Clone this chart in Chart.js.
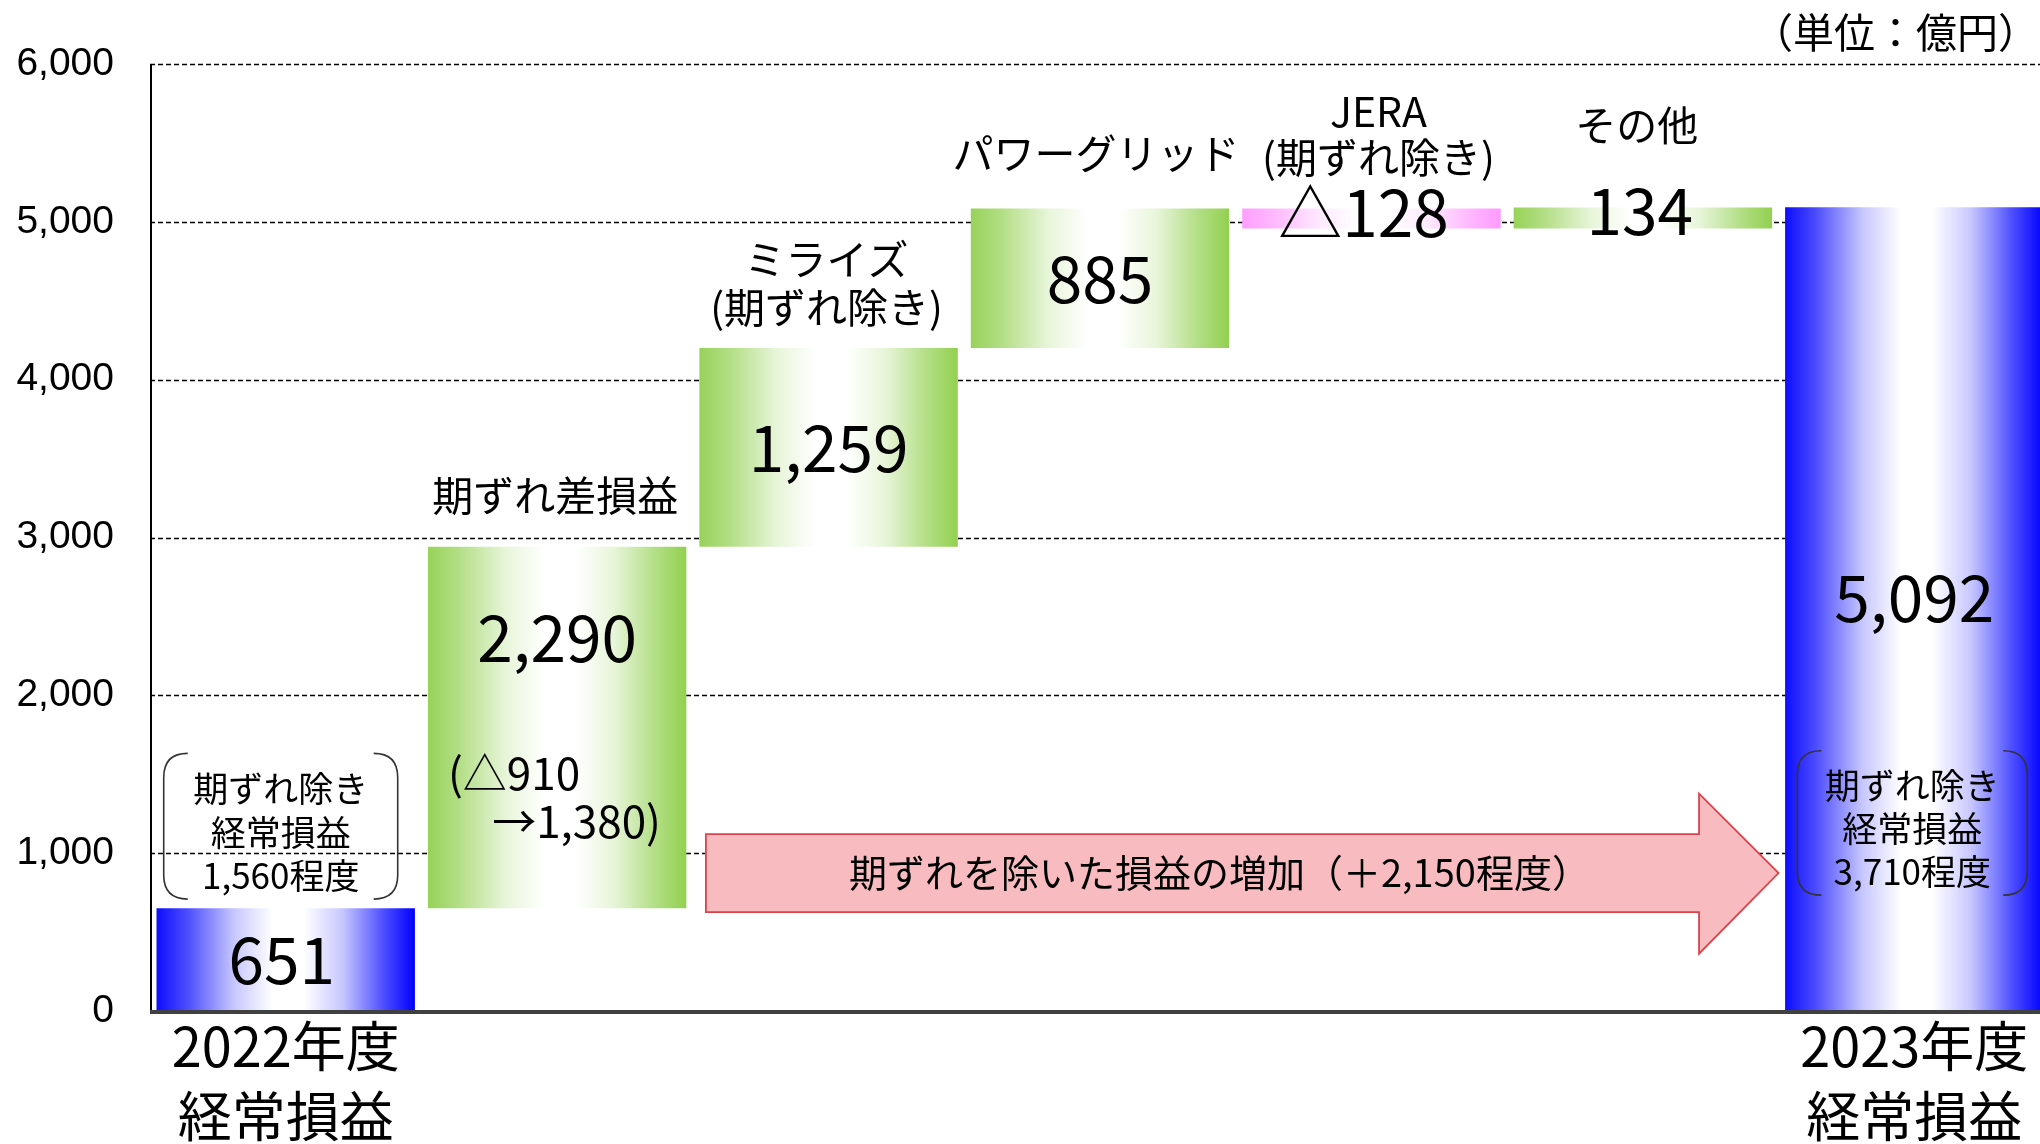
<!DOCTYPE html>
<html><head><meta charset="utf-8">
<script src="https://cdn.jsdelivr.net/npm/chart.js@4.4.1/dist/chart.umd.min.js"></script>
<style>html,body{margin:0;padding:0;background:#fff}#wrap{width:2040px;height:1144px;position:relative}</style>
</head><body><div id="wrap"><canvas id="c"></canvas></div>
<script>
// ---- data ----
const categories = ['2022年度経常損益','期ずれ差損益','ミライズ(期ずれ除き)','パワーグリッド','JERA(期ずれ除き)','その他','2023年度経常損益'];
const startValues = [0, 651, 2941, 4200, 5085, 4957, 0];
const endValues   = [651, 2941, 4200, 5085, 4957, 5091, 5092];
const valueLabels = ['651','2,290','1,259','885','△128','134','5,092'];
const barKinds = ['total','up','up','up','down','up','total'];
const topLabels = [[], ['期ずれ差損益'], ['ミライズ','(期ずれ除き)'], ['パワーグリッド'], ['JERA','(期ずれ除き)'], ['その他'], []];
const xTickLabels = [['2022年度','経常損益'], '', '', '', '', '', ['2023年度','経常損益']];
const yTicks = [0,1000,2000,3000,4000,5000,6000];
const noteLeft = ['期ずれ除き','経常損益','1,560程度'];
const noteRight = ['期ずれ除き','経常損益','3,710程度'];
const noteSub = ['(△910','→1,380)'];
const arrowText = '期ずれを除いた損益の増加（＋2,150程度）';
const unitText = '（単位：億円）';

// ---- styling / layout ----
const BAR_PCT = 0.952;
const RIGHT_OVERHANG = 10; // plot area runs slightly past the canvas edge, as in the original
const EDGE = {total:[0,0,255], up:[146,208,80], down:[255,153,255]};
const JP = '"Noto Sans CJK JP", "Noto Sans", sans-serif';
function mix(c, t){ // t: 0 = edge colour, 1 = white
  return 'rgb(' + c.map(v => Math.round(v + (255 - v) * t)).join(',') + ')';
}
function makeGrad(ctx, x0, x1, c){
  const g = ctx.createLinearGradient(x0, 0, x1, 0);
  g.addColorStop(0, mix(c, 0.05));
  g.addColorStop(0.12, mix(c, 0.3));
  g.addColorStop(0.3, mix(c, 0.78));
  g.addColorStop(0.45, mix(c, 1));
  g.addColorStop(0.57, mix(c, 1));
  g.addColorStop(0.72, mix(c, 0.78));
  g.addColorStop(0.88, mix(c, 0.3));
  g.addColorStop(1, mix(c, 0));
  return g;
}
function barGeom(chart, i){
  const xs = chart.scales.x;
  const slot = (xs.right - xs.left) / categories.length;
  const w = slot * BAR_PCT;
  const cx = xs.getPixelForValue(i);
  return {cx, w, slot, left: cx - w/2, right: cx + w/2};
}

const stretch = {
  id: 'stretch',
  afterLayout(chart){
    const xs = chart.scales.x, a = chart.chartArea;
    xs.right += RIGHT_OVERHANG; xs.width += RIGHT_OVERHANG; xs.configure();
    a.right += RIGHT_OVERHANG; a.width += RIGHT_OVERHANG;
  }
};

const annot = {
  id: 'annot',
  beforeDatasetsDraw(chart){
    const {ctx, chartArea: a, scales: {y}} = chart;
    ctx.save();
    ctx.strokeStyle = '#000'; ctx.lineWidth = 1.3; ctx.setLineDash([5,3]);
    yTicks.forEach(v => {
      if (v === 0) return;
      const py = Math.round(y.getPixelForValue(v)) + 0.5;
      ctx.beginPath(); ctx.moveTo(a.left, py); ctx.lineTo(a.right, py); ctx.stroke();
    });
    ctx.restore();
  },
  afterDatasetsDraw(chart){
    const {ctx, chartArea: a, scales: {x, y}} = chart;
    const X = v => x.getPixelForValue(v);
    const Y = v => y.getPixelForValue(v);
    ctx.save();
    // axes
    ctx.setLineDash([]);
    ctx.strokeStyle = '#000'; ctx.lineWidth = 2;
    ctx.beginPath(); ctx.moveTo(a.left + 1, a.top); ctx.lineTo(a.left + 1, a.bottom); ctx.stroke();
    ctx.strokeStyle = '#404040'; ctx.lineWidth = 4;
    ctx.beginPath(); ctx.moveTo(a.left, a.bottom + 1); ctx.lineTo(a.right, a.bottom + 1); ctx.stroke();

    ctx.fillStyle = '#000';
    ctx.textAlign = 'center'; ctx.textBaseline = 'middle';
    // value labels
    const labelY = [325, 2366, 3570, 4642, 5060, 5070, 2620];
    const labelDX = [-4, 0, 0, 0, -8, -3, 0];
    ctx.font = '64px ' + JP;
    valueLabels.forEach((t, i) => {
      const g = barGeom(chart, i);
      ctx.fillText(t, g.cx + labelDX[i], Y(labelY[i]));
    });
    // top labels
    const topY = [[], [3265], [4765, 4460], [5433], [5697, 5408], [5614], []];
    const topDX = [0, -2, -2, -4, 7, -6, 0];
    ctx.font = '41px ' + JP;
    topLabels.forEach((lines, i) => {
      const g = barGeom(chart, i);
      lines.forEach((t, k) => ctx.fillText(t, g.cx + topDX[i], Y(topY[i][k])));
    });
    // bracket notes
    function bracketNote(i, lines, x0off, x1off, vTop, vBot, lineVals){
      const g = barGeom(chart, i);
      const x0 = g.cx + x0off, x1 = g.cx + x1off, y0 = Y(vTop), y1 = Y(vBot), r = 24;
      ctx.strokeStyle = '#333'; ctx.lineWidth = 1.6;
      ctx.beginPath();
      ctx.moveTo(x0 + r, y0); ctx.quadraticCurveTo(x0, y0, x0, y0 + r);
      ctx.lineTo(x0, y1 - r); ctx.quadraticCurveTo(x0, y1, x0 + r, y1);
      ctx.stroke();
      ctx.beginPath();
      ctx.moveTo(x1 - r, y0); ctx.quadraticCurveTo(x1, y0, x1, y0 + r);
      ctx.lineTo(x1, y1 - r); ctx.quadraticCurveTo(x1, y1, x1 - r, y1);
      ctx.stroke();
      ctx.font = '35px ' + JP; ctx.textAlign = 'center';
      lines.forEach((t, k) => ctx.fillText(t, (x0 + x1) / 2, Y(lineVals[k])));
    }
    bracketNote(0, noteLeft, -122, 112, 1632, 709, [1410, 1130, 857]);
    bracketNote(6, noteRight, -117, 113, 1649, 734, [1426, 1154, 882]);
    // sub note inside bar 1
    {
      const g = barGeom(chart, 1);
      ctx.font = '44px ' + JP;
      ctx.textAlign = 'left'; ctx.fillText(noteSub[0], g.left + 20, Y(1509));
      ctx.textAlign = 'right'; ctx.fillText(noteSub[1], g.left + 233, Y(1204));
    }
    // arrow
    {
      const bx0 = X(1.548), bx1 = X(5.207), tip = X(5.500);
      const by0 = Y(1121), by1 = Y(627), hy0 = Y(1377), hy1 = Y(363), ty = Y(874);
      ctx.beginPath();
      ctx.moveTo(bx0, by0); ctx.lineTo(bx1, by0); ctx.lineTo(bx1, hy0); ctx.lineTo(tip, ty);
      ctx.lineTo(bx1, hy1); ctx.lineTo(bx1, by1); ctx.lineTo(bx0, by1); ctx.closePath();
      ctx.fillStyle = '#f7bbc0'; ctx.fill();
      ctx.strokeStyle = '#d9434b'; ctx.lineWidth = 1.8; ctx.stroke();
      ctx.fillStyle = '#000'; ctx.font = '38px ' + JP; ctx.textAlign = 'center';
      ctx.fillText(arrowText, X(3.44), ty);
    }
    // unit
    ctx.font = '41px ' + JP; ctx.textAlign = 'right'; ctx.fillStyle = '#000';
    ctx.fillText(unitText, 2039, 32);
    ctx.restore();
  }
};

new Chart(document.getElementById('c'), {
  type: 'bar',
  data: {
    labels: categories,
    datasets: [{
      data: categories.map((_, i) => [startValues[i], endValues[i]]),
      backgroundColor: (c) => {
        const kind = barKinds[c.dataIndex] || 'up';
        const chart = c.chart;
        if (c.dataIndex === undefined || !chart.chartArea || !chart.scales.x) return mix(EDGE[kind], 0);
        const g = barGeom(chart, c.dataIndex);
        return makeGrad(chart.ctx, g.left, g.right, EDGE[kind]);
      },
      borderWidth: 0,
      barPercentage: BAR_PCT,
      categoryPercentage: 1.0
    }]
  },
  options: {
    responsive: true,
    maintainAspectRatio: false,
    animation: false,
    layout: {padding: {top: 64, left: 0, right: 0, bottom: 0}},
    plugins: {legend: {display: false}, tooltip: {enabled: false}},
    scales: {
      x: {
        offset: true,
        grid: {display: false, drawTicks: false},
        border: {display: false},
        ticks: {
          autoSkip: false, maxRotation: 0, minRotation: 0, padding: 0, color: '#000',
          font: {family: JP, size: 54, lineHeight: 1.3},
          callback: (v, i) => xTickLabels[i]
        },
        afterFit: (s) => { s.height = 133; }
      },
      y: {
        min: 0, max: 6000,
        grid: {display: false, drawTicks: false},
        border: {display: false},
        afterBuildTicks: (s) => { s.ticks = yTicks.map(v => ({value: v})); },
        ticks: {
          padding: 36, color: '#000',
          font: {family: '"Liberation Sans", Arial, sans-serif', size: 39},
          callback: (v) => Number(v).toLocaleString('en-US')
        },
        afterFit: (s) => { s.width = 150; }
      }
    }
  },
  plugins: [stretch, annot]
});
</script>
</body></html>
